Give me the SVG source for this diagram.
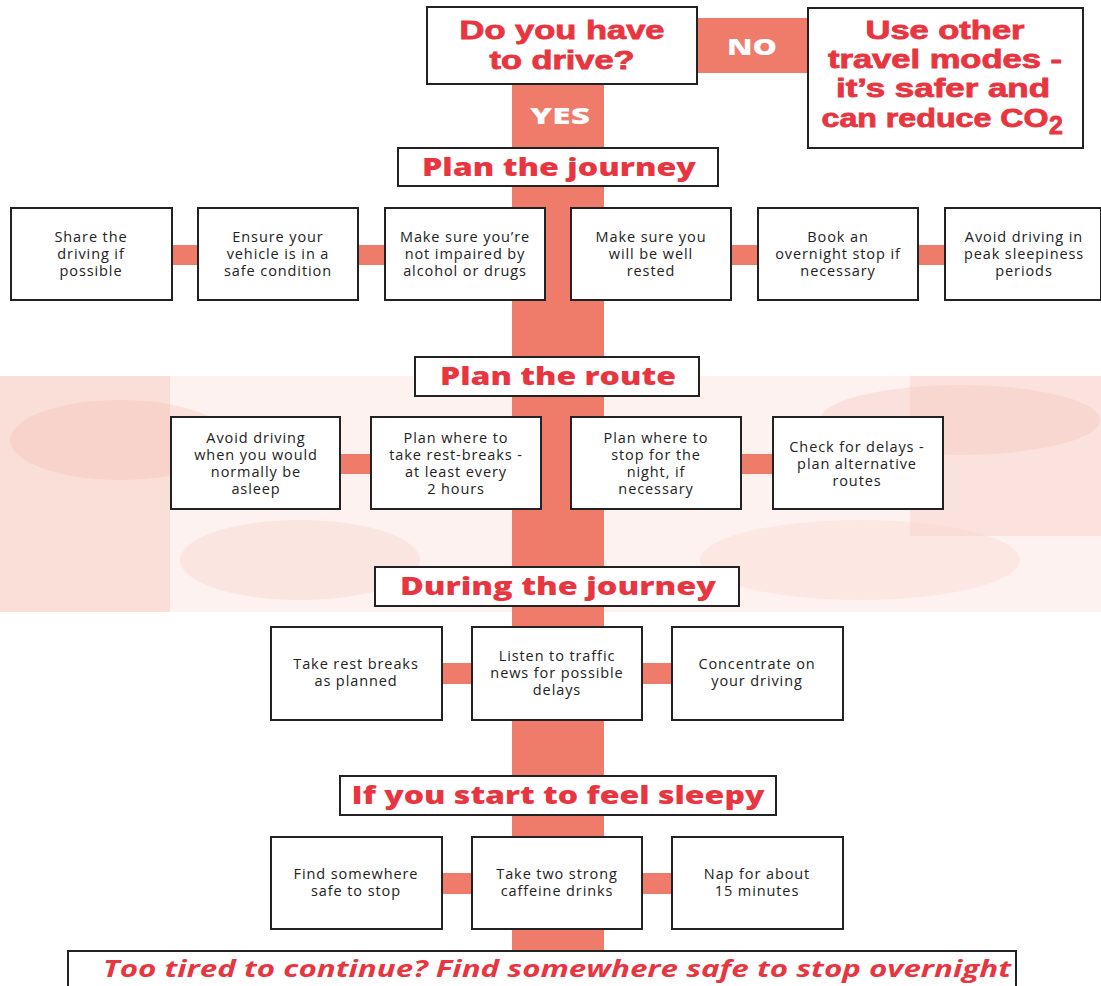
<svg xmlns="http://www.w3.org/2000/svg" width="1101" height="986" viewBox="0 0 1101 986">
<defs>
<style>
.box{fill:#fff;stroke:#222;stroke-width:2}
.hdr{fill:#fff;stroke:#222;stroke-width:2}
.bar{fill:#ef7b6b}
.t{font-family:"Open Sans","Liberation Sans",sans-serif;font-size:14.5px;letter-spacing:0.9px;fill:#222;text-anchor:middle}
.h{font-family:"Open Sans","Liberation Sans",sans-serif;font-weight:800;font-size:25px;fill:#e8353f;text-anchor:middle}
.q{font-family:"Liberation Sans",Arial,sans-serif;font-weight:bold;font-size:25px;fill:#e8353f;stroke:#e8353f;stroke-width:0.8px;text-anchor:middle}
.w{font-family:"Open Sans","Liberation Sans",sans-serif;font-weight:800;font-size:23px;fill:#fff;text-anchor:middle}
</style>
</defs>
<rect width="1101" height="986" fill="#fff"/>
<g id="background">
<rect x="0" y="376" width="1101" height="236" fill="#fbe3de" opacity="0.45"/>
<rect x="0" y="376" width="170" height="236" fill="#f6c7bd" opacity="0.45"/>
<rect x="910" y="376" width="191" height="160" fill="#f6c7bd" opacity="0.35"/>
<ellipse cx="120" cy="440" rx="110" ry="40" fill="#f4b9ad" opacity="0.3"/>
<ellipse cx="300" cy="560" rx="120" ry="40" fill="#f7cfc6" opacity="0.35"/>
<ellipse cx="960" cy="420" rx="140" ry="35" fill="#f6c4b9" opacity="0.35"/>
<ellipse cx="860" cy="560" rx="160" ry="40" fill="#f8d3ca" opacity="0.35"/>
</g>
<g id="connectors">
<rect class="bar" x="512" y="84" width="92" height="868"/>
<rect class="bar" x="697" y="18" width="111" height="55"/>
<rect class="bar" x="172" y="245" width="26" height="20"/>
<rect class="bar" x="358" y="245" width="27" height="20"/>
<rect class="bar" x="731" y="245" width="27" height="20"/>
<rect class="bar" x="918" y="245" width="27" height="20"/>
<rect class="bar" x="340" y="454" width="31" height="20"/>
<rect class="bar" x="741" y="454" width="32" height="20"/>
<rect class="bar" x="442" y="663" width="30" height="21"/>
<rect class="bar" x="642" y="663" width="30" height="21"/>
<rect class="bar" x="442" y="873" width="30" height="21"/>
<rect class="bar" x="642" y="873" width="30" height="21"/>
<text class="w" x="752" y="55" textLength="50" lengthAdjust="spacingAndGlyphs">NO</text>
<text class="w" x="560" y="124" textLength="60" lengthAdjust="spacingAndGlyphs">YES</text>
</g>
<g id="q-drive">
<rect class="box" x="427" y="7" width="270" height="77"/>
<text class="q" x="562" y="39" textLength="205" lengthAdjust="spacingAndGlyphs">Do you have</text>
<text class="q" x="562" y="69" textLength="145" lengthAdjust="spacingAndGlyphs">to drive?</text>
</g>
<g id="other-modes">
<rect class="box" x="808" y="8" width="275" height="140"/>
<text class="q" x="945" y="39" textLength="159" lengthAdjust="spacingAndGlyphs">Use other</text>
<text class="q" x="945" y="68" textLength="234" lengthAdjust="spacingAndGlyphs">travel modes -</text>
<text class="q" x="943" y="97" textLength="214" lengthAdjust="spacingAndGlyphs">it’s safer and</text>
<text class="q" x="935" y="127" textLength="227" lengthAdjust="spacingAndGlyphs">can reduce CO</text>
<text class="q" x="1049" y="134" font-size="18" style="text-anchor:start">2</text>
</g>
<g id="plan-journey">
<rect class="hdr" x="398" y="148" width="320" height="38"/>
<text class="h" x="559" y="176" textLength="274" lengthAdjust="spacingAndGlyphs">Plan the journey</text>
</g>
<g id="j1"><rect class="box" x="11" y="208" width="161" height="92"/><text class="t" x="91" y="242">Share the</text><text class="t" x="91" y="259">driving if</text><text class="t" x="91" y="276">possible</text></g>
<g id="j2"><rect class="box" x="198" y="208" width="160" height="92"/><text class="t" x="278" y="242">Ensure your</text><text class="t" x="278" y="259">vehicle is in a</text><text class="t" x="278" y="276">safe condition</text></g>
<g id="j3"><rect class="box" x="385" y="208" width="160" height="92"/><text class="t" x="465" y="242">Make sure you’re</text><text class="t" x="465" y="259">not impaired by</text><text class="t" x="465" y="276">alcohol or drugs</text></g>
<g id="j4"><rect class="box" x="571" y="208" width="160" height="92"/><text class="t" x="651" y="242">Make sure you</text><text class="t" x="651" y="259">will be well</text><text class="t" x="651" y="276">rested</text></g>
<g id="j5"><rect class="box" x="758" y="208" width="160" height="92"/><text class="t" x="838" y="242">Book an</text><text class="t" x="838" y="259">overnight stop if</text><text class="t" x="838" y="276">necessary</text></g>
<g id="j6"><rect class="box" x="945" y="208" width="156" height="92"/><text class="t" x="1024" y="242">Avoid driving in</text><text class="t" x="1024" y="259">peak sleepiness</text><text class="t" x="1024" y="276">periods</text></g>
<g id="plan-route">
<rect class="hdr" x="415" y="357" width="284" height="39"/>
<text class="h" x="558" y="385" textLength="236" lengthAdjust="spacingAndGlyphs">Plan the route</text>
</g>
<g id="r1"><rect class="box" x="171" y="417" width="169" height="92"/><text class="t" x="256" y="443">Avoid driving</text><text class="t" x="256" y="460">when you would</text><text class="t" x="256" y="477">normally be</text><text class="t" x="256" y="494">asleep</text></g>
<g id="r2"><rect class="box" x="371" y="417" width="170" height="92"/><text class="t" x="456" y="443">Plan where to</text><text class="t" x="456" y="460">take rest-breaks -</text><text class="t" x="456" y="477">at least every</text><text class="t" x="456" y="494">2 hours</text></g>
<g id="r3"><rect class="box" x="571" y="417" width="170" height="92"/><text class="t" x="656" y="443">Plan where to</text><text class="t" x="656" y="460">stop for the</text><text class="t" x="656" y="477">night, if</text><text class="t" x="656" y="494">necessary</text></g>
<g id="r4"><rect class="box" x="773" y="417" width="170" height="92"/><text class="t" x="857" y="452">Check for delays -</text><text class="t" x="857" y="469">plan alternative</text><text class="t" x="857" y="486">routes</text></g>
<g id="during">
<rect class="hdr" x="375" y="567" width="364" height="39"/>
<text class="h" x="558" y="595" textLength="316" lengthAdjust="spacingAndGlyphs">During the journey</text>
</g>
<g id="d1"><rect class="box" x="271" y="627" width="171" height="93"/><text class="t" x="356" y="669">Take rest breaks</text><text class="t" x="356" y="686">as planned</text></g>
<g id="d2"><rect class="box" x="472" y="627" width="170" height="93"/><text class="t" x="557" y="661">Listen to traffic</text><text class="t" x="557" y="678">news for possible</text><text class="t" x="557" y="695">delays</text></g>
<g id="d3"><rect class="box" x="672" y="627" width="171" height="93"/><text class="t" x="757" y="669">Concentrate on</text><text class="t" x="757" y="686">your driving</text></g>
<g id="sleepy">
<rect class="hdr" x="340" y="776" width="436" height="39"/>
<text class="h" x="558" y="804" textLength="413" lengthAdjust="spacingAndGlyphs">If you start to feel sleepy</text>
</g>
<g id="s1"><rect class="box" x="271" y="837" width="171" height="92"/><text class="t" x="356" y="879">Find somewhere</text><text class="t" x="356" y="896">safe to stop</text></g>
<g id="s2"><rect class="box" x="472" y="837" width="170" height="92"/><text class="t" x="557" y="879">Take two strong</text><text class="t" x="557" y="896">caffeine drinks</text></g>
<g id="s3"><rect class="box" x="672" y="837" width="171" height="92"/><text class="t" x="757" y="879">Nap for about</text><text class="t" x="757" y="896">15 minutes</text></g>
<g id="overnight">
<rect class="box" x="68" y="951" width="948" height="45"/>
<text x="557" y="977" font-family="'Open Sans','Liberation Sans',sans-serif" font-weight="bold" font-style="italic" font-size="24" fill="#e8353f" text-anchor="middle" textLength="908" lengthAdjust="spacingAndGlyphs">Too tired to continue? Find somewhere safe to stop overnight</text>
</g>
</svg>
